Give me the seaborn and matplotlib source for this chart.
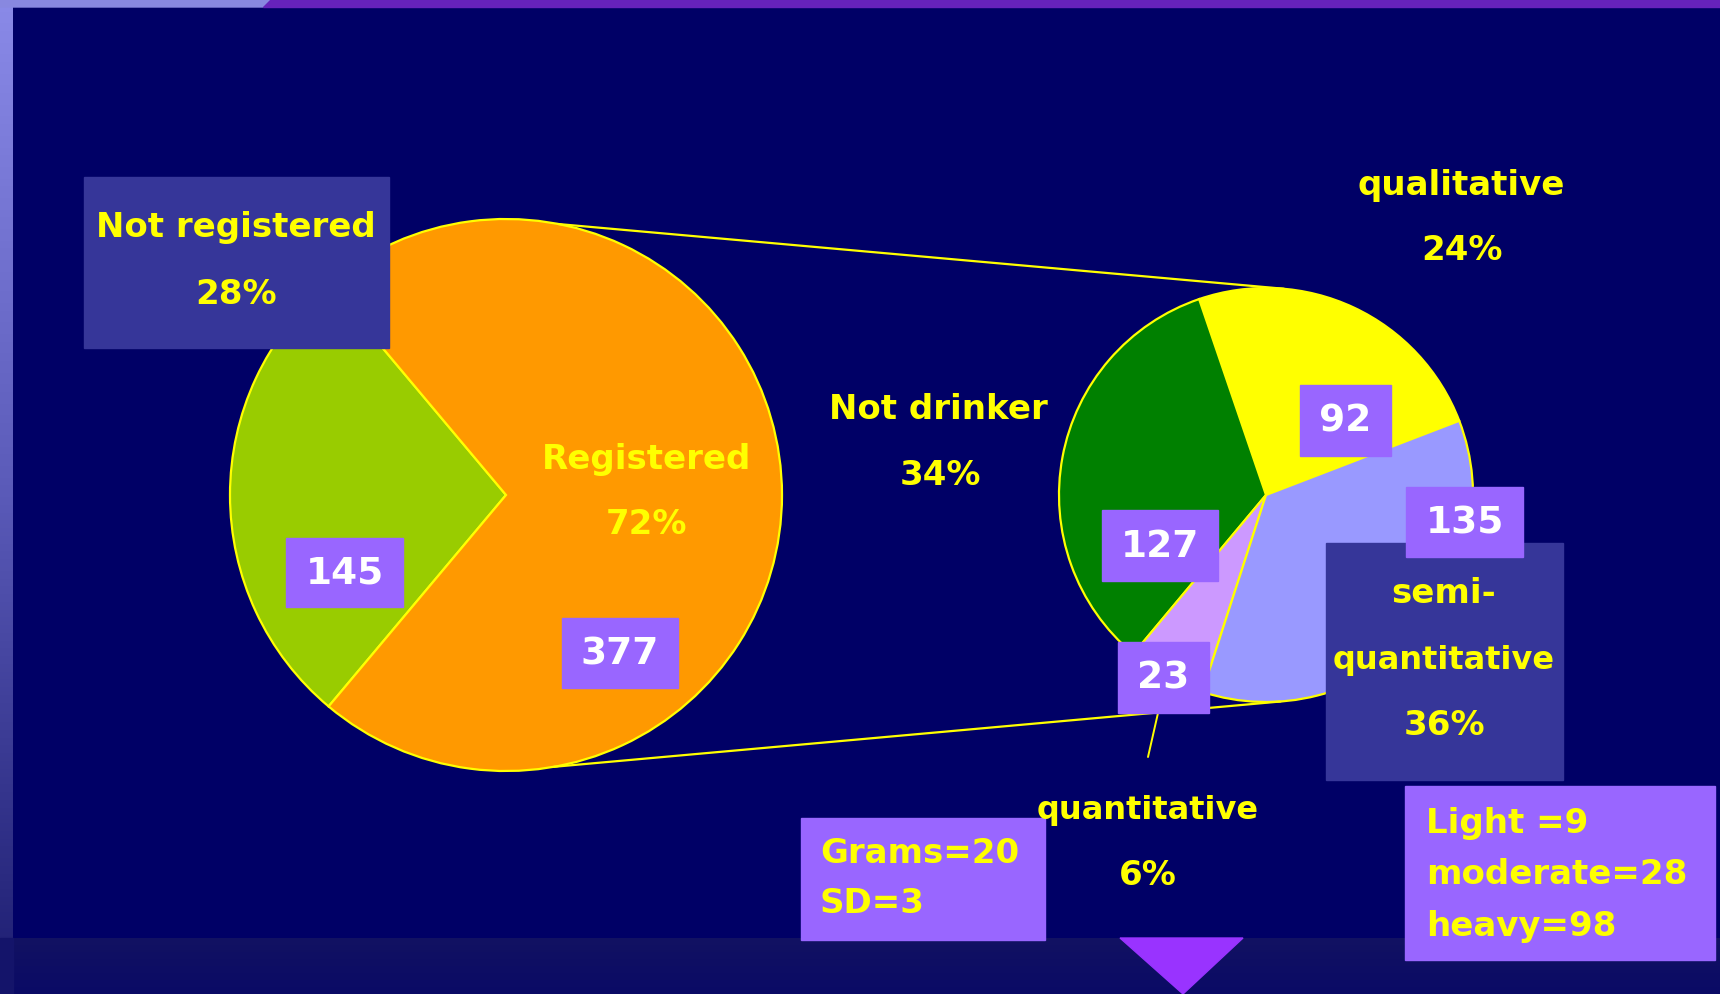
import numpy as np
import matplotlib
matplotlib.use("Agg")
import matplotlib.pyplot as plt
from matplotlib.patches import Rectangle, Polygon
from matplotlib.colors import LinearSegmentedColormap
import seaborn as sns

# data
access_labels = ["Not registered", "Registered"]
access_counts = [145, 377]
access_pct = [28, 72]

method_labels = ["qualitative", "Not drinker", "quantitative", "semi-quantitative"]
method_counts = [92, 127, 23, 135]
method_pct = [24, 34, 6, 36]

grams_lines = ["Grams=20", "SD=3"]
level_lines = ["Light =9", "moderate=28", "heavy=98"]

W, H = 1720, 994
NAVY = "#000066"
YEL = "#ffff00"
BOX_DARK = "#363699"
BOX_LIGHT = "#9966ff"

sns.set_style("white")
plt.rcParams["font.family"] = ["DejaVu Sans"]

access_colors = sns.color_palette(["#99cc00", "#ff9900"])
method_colors = sns.color_palette(["#ffff00", "#008000", "#cc99ff", "#9999ff"])

fig = plt.figure(figsize=(W / 100, H / 100), dpi=100)
fig.patch.set_facecolor(NAVY)
ax = fig.add_axes([0, 0, 1, 1])


def py(y):
    # slide positions measured from the top edge
    return H - y


# slide frame: gradient strip on the left, bar on top, band at the bottom
grad = np.linspace(0, 1, 256).reshape(-1, 1)
strip_cmap = LinearSegmentedColormap.from_list("strip", ["#8a8ae8", "#5a5ab8", "#1c1c70"])
ax.imshow(grad, cmap=strip_cmap, extent=(0, 13, py(994), py(0)), aspect="auto", zorder=0)
band_cmap = LinearSegmentedColormap.from_list("band", ["#121262", "#0a0a66"])
ax.imshow(grad, cmap=band_cmap, extent=(13, W, py(994), py(938)), aspect="auto", zorder=0)
ax.add_patch(Rectangle((0, py(994)), 13, 56, color="#14146a", zorder=0.5))
ax.add_patch(Polygon([(0, py(0)), (270, py(0)), (263, py(7)), (0, py(7))], color="#8888e0", zorder=1))
ax.add_patch(Polygon([(270, py(0)), (W, py(0)), (W, py(7)), (263, py(7))], color="#6622bb", zorder=1))
ax.add_patch(Polygon([(1120, py(938)), (1243, py(938)), (1183, py(994))], color="#9933ff", zorder=1))

# the two pies
c1, r1 = (506, py(495)), 276
c2, r2 = (1266, py(495)), 207
edge = dict(edgecolor=YEL, linewidth=1.6)
ax.pie(access_counts, colors=access_colors, startangle=130, center=c1, radius=r1,
       wedgeprops=edge, frame=True)
ax.pie(method_counts, colors=method_colors, startangle=21, center=c2, radius=r2,
       wedgeprops=edge, frame=True)


def rim(c, r, deg):
    a = np.radians(deg)
    return c[0] + r * np.cos(a), c[1] + r * np.sin(a)


# connector lines from the "Registered" slice to the breakdown pie
for a1, a2 in [(79, 85), (-80, -86)]:
    x0, y0 = rim(c1, r1, a1)
    x1, y1 = rim(c2, r2, a2)
    ax.plot([x0, x1], [y0, y1], color=YEL, lw=1.6, zorder=3)

# leader line to the "quantitative" label
ax.plot([1158, 1148], [py(713), py(757)], color=YEL, lw=1.4, zorder=3)

# label boxes
for x0, x1, y0, y1, col in [
    (84, 389, 177, 348, BOX_DARK),
    (1326, 1563, 543, 780, BOX_DARK),
    (801, 1045, 818, 940, BOX_LIGHT),
    (1405, 1715, 786, 960, BOX_LIGHT),
]:
    ax.add_patch(Rectangle((x0, py(y1)), x1 - x0, y1 - y0, color=col, zorder=4))

lab = dict(color=YEL, fontsize=24.5, fontweight="bold", ha="center", va="baseline", zorder=6)
lab_q = dict(lab, fontsize=23)

# big pie labels
ax.text(236, py(237), access_labels[0], **lab)
ax.text(236, py(304), f"{access_pct[0]}%", **lab)
ax.text(647, py(469), access_labels[1], **lab)
ax.text(647, py(534), f"{access_pct[1]}%", **lab)

# breakdown pie labels
ax.text(1461, py(195), method_labels[0], **lab)
ax.text(1462, py(260), f"{method_pct[0]}%", **lab)
ax.text(938, py(419), method_labels[1], **lab)
ax.text(940, py(485), f"{method_pct[1]}%", **lab)
ax.text(1148, py(819), method_labels[2], **lab_q)
ax.text(1148, py(885), f"{method_pct[2]}%", **lab)
semi_a, semi_b = method_labels[3].split("-", 1)
ax.text(1444, py(603), semi_a + "-", **lab)
ax.text(1444, py(669), semi_b, **lab_q)
ax.text(1444, py(735), f"{method_pct[3]}%", **lab)

# detail boxes
left = dict(lab, ha="left")
for txt, yb in zip(grams_lines, [863, 913]):
    ax.text(820, py(yb), txt, **left)
for txt, yb in zip(level_lines, [833, 884, 936]):
    ax.text(1426, py(yb), txt, **left)

# count boxes with white numbers
count_boxes = [
    (access_counts[0], 286, 403, 538, 607),
    (access_counts[1], 562, 678, 618, 688),
    (method_counts[0], 1300, 1391, 385, 456),
    (method_counts[3], 1406, 1523, 487, 557),
    (method_counts[1], 1102, 1218, 510, 581),
    (method_counts[2], 1118, 1209, 642, 713),
]
num_size = 27
for val, x0, x1, y0, y1 in count_boxes:
    ax.add_patch(Rectangle((x0, py(y1)), x1 - x0, y1 - y0, color=BOX_LIGHT, zorder=5))
    yc = (y0 + y1) / 2 + 0.30 * num_size * 100 / 72
    ax.text((x0 + x1) / 2, py(yc), str(val), color="white", fontsize=num_size,
            fontweight="bold", ha="center", va="baseline", zorder=6)

ax.set_xlim(0, W)
ax.set_ylim(0, H)
ax.set_aspect("equal")
ax.axis("off")

fig.savefig("out.png", dpi=100, facecolor=fig.get_facecolor())
